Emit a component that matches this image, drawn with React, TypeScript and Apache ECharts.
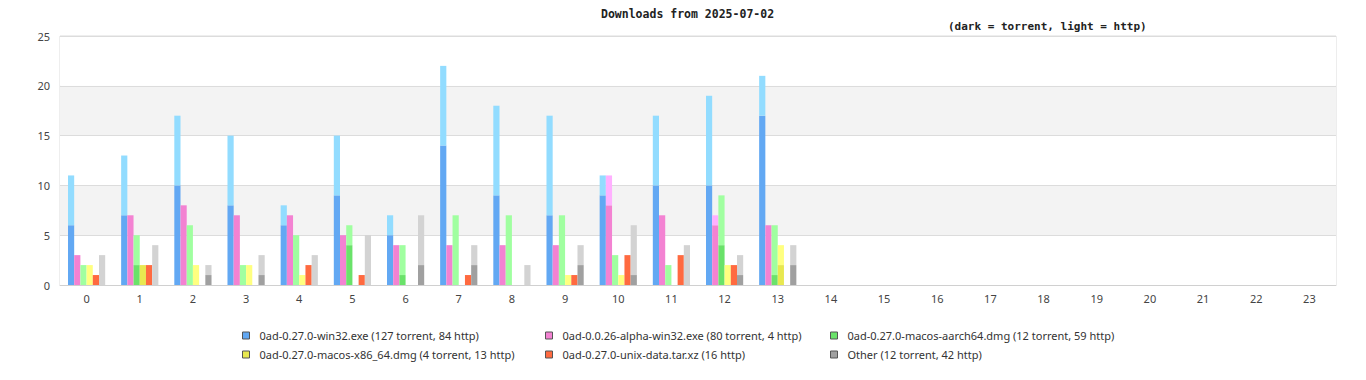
import React, { useEffect, useRef } from "react";
import * as echarts from "echarts";

const hours = Array.from({ length: 24 }, (_, i) => String(i));

const fileNames = [
  "0ad-0.27.0-win32.exe (127 torrent, 84 http)",
  "0ad-0.0.26-alpha-win32.exe (80 torrent, 4 http)",
  "0ad-0.27.0-macos-aarch64.dmg (12 torrent, 59 http)",
  "0ad-0.27.0-macos-x86_64.dmg (4 torrent, 13 http)",
  "0ad-0.27.0-unix-data.tar.xz (16 http)",
  "Other (12 torrent, 42 http)",
];

const darkColors = ["#62a8f3", "#f382d2", "#6ae26a", "#e8e850", "#ff6a40", "#a0a0a0"];
const lightColors = ["#92dcff", "#ffb0ff", "#a0ffa0", "#ffff80", "#ff6a40", "#d3d3d3"];

// counts per hour (0..13)
const win32Torrent = [6, 7, 10, 8, 6, 9, 5, 14, 9, 7, 9, 10, 10, 17];
const win32Http = [5, 6, 7, 7, 2, 6, 2, 8, 9, 10, 2, 7, 9, 4];
const alphaTorrent = [3, 7, 8, 7, 7, 5, 4, 4, 4, 4, 8, 7, 6, 6];
const alphaHttp = [0, 0, 0, 0, 0, 0, 0, 0, 0, 0, 3, 0, 1, 0];
const aarchTorrent = [0, 2, 0, 0, 0, 4, 1, 0, 0, 0, 0, 0, 4, 1];
const aarchHttp = [2, 3, 6, 2, 5, 2, 3, 7, 7, 7, 3, 2, 5, 5];
const x86Torrent = [0, 2, 0, 0, 0, 0, 0, 0, 0, 0, 0, 0, 0, 2];
const x86Http = [2, 0, 2, 2, 1, 0, 0, 0, 0, 1, 1, 0, 2, 2];
const unixTorrent = [0, 0, 0, 0, 0, 0, 0, 0, 0, 0, 0, 0, 0, 0];
const unixHttp = [1, 2, 0, 0, 2, 1, 0, 1, 0, 1, 3, 3, 2, 0];
const otherTorrent = [0, 0, 1, 1, 0, 0, 2, 2, 0, 2, 1, 0, 1, 2];
const otherHttp = [3, 4, 1, 2, 3, 5, 5, 2, 2, 2, 5, 4, 2, 2];

const torrentData = [win32Torrent, alphaTorrent, aarchTorrent, x86Torrent, unixTorrent, otherTorrent];
const httpData = [win32Http, alphaHttp, aarchHttp, x86Http, unixHttp, otherHttp];

const yTicks = { min: 0, max: 25, interval: 5 };

const legendPos = [
  { left: 242, top: 330 },
  { left: 545, top: 330 },
  { left: 830, top: 330 },
  { left: 242, top: 349 },
  { left: 545, top: 349 },
  { left: 830, top: 349 },
];

export default function App() {
  const ref = useRef<HTMLDivElement>(null);
  useEffect(() => {
    if (!ref.current) return;
    const chart = echarts.init(ref.current, null, { renderer: "svg" });
    const series: any[] = [];
    fileNames.forEach((name, i) => {
      series.push({
        name,
        type: "bar",
        stack: "s" + i,
        data: torrentData[i].map((v) => v || null),
        itemStyle: { color: darkColors[i] },
        barGap: "0%",
        barCategoryGap: "30%",
      });
      series.push({
        name: name + " http",
        type: "bar",
        stack: "s" + i,
        data: httpData[i].map((v) => v || null),
        itemStyle: { color: lightColors[i] },
        barGap: "0%",
        barCategoryGap: "30%",
      });
    });
    const font = "'Noto Sans', sans-serif";
    chart.setOption({
      animation: false,
      title: [
        {
          text: "Downloads from 2025-07-02",
          left: 596,
          top: 3,
          textStyle: { fontFamily: "'DejaVu Sans Mono', monospace", fontSize: 11.5, fontWeight: "bold", color: "#222" },
        },
        {
          text: "(dark = torrent, light = http)",
          left: 943,
          top: 16,
          textStyle: { fontFamily: "'DejaVu Sans Mono', monospace", fontSize: 11, fontWeight: "bold", color: "#222" },
        },
      ],
      legend: fileNames.map((name, i) => ({
        data: [name],
        left: legendPos[i].left,
        top: legendPos[i].top,
        padding: 0,
        itemWidth: 7,
        itemHeight: 7,
        itemGap: 0,
        icon: "rect",
        selectedMode: false,
        itemStyle: { borderColor: "#555", borderWidth: 1 },
        textStyle: { fontFamily: font, fontSize: 11, color: "#333", padding: [0, 0, 0, 5] },
      })),
      grid: {
        left: 60,
        right: 30,
        top: 36,
        bottom: 95,
        show: true,
        borderColor: "#dcdcdc",
        borderWidth: 1,
        backgroundColor: "transparent",
      },
      xAxis: {
        type: "category",
        data: hours,
        axisTick: { show: false },
        axisLine: { lineStyle: { color: "#d0d0d0" } },
        axisLabel: { color: "#444", fontFamily: font, fontSize: 11, margin: 8 },
      },
      yAxis: {
        type: "value",
        min: yTicks.min,
        max: yTicks.max,
        interval: yTicks.interval,
        axisLine: { show: false },
        axisTick: { show: false },
        axisLabel: { color: "#444", fontFamily: font, fontSize: 11, margin: 10 },
        splitLine: { lineStyle: { color: "#dcdcdc" } },
        splitArea: { show: true, areaStyle: { color: ["#ffffff", "#f3f3f3"] } },
      },
      series,
    });
    return () => chart.dispose();
  }, []);
  return (
    <div
      ref={ref}
      style={{ position: "fixed", left: 0, top: 0, width: 1366, height: 380, background: "#fff" }}
    />
  );
}
